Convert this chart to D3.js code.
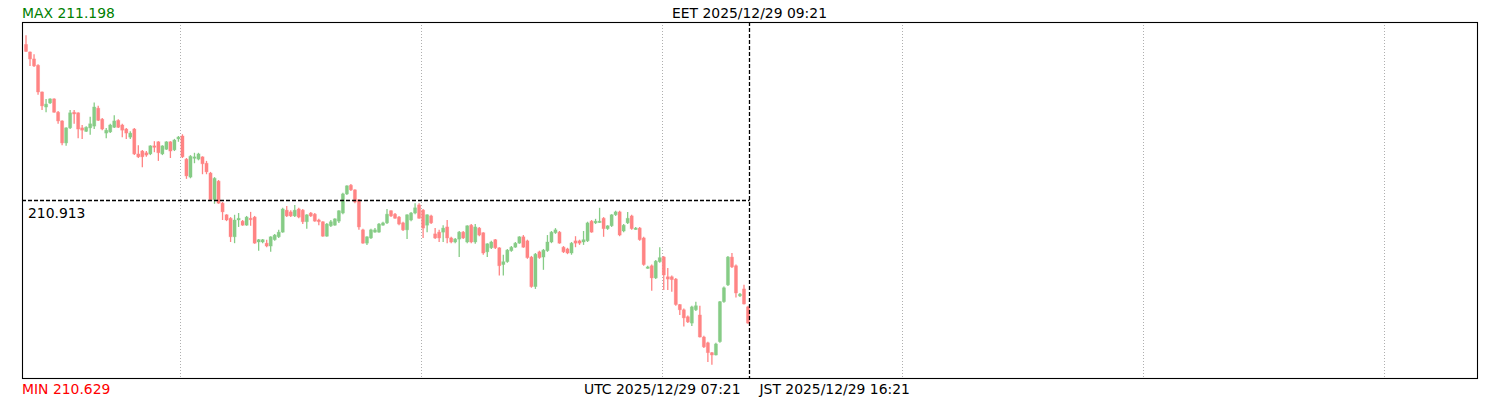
<!DOCTYPE html>
<html><head><meta charset="utf-8">
<script src="https://cdn.jsdelivr.net/npm/d3@7"></script>
<style>
body{margin:0;background:#fff}
svg{display:block}
text{font-family:"DejaVu Sans",sans-serif;font-size:13.9px}
</style></head>
<body><svg id="c" width="1500" height="400"></svg>
<script>
// ---- data ----
const startTime = "2025-12-29T04:21:00Z";   // first 1-minute candle
const open = [211.182,211.169,211.157,211.146,211.100,211.074,211.081,211.088,211.065,211.050,
211.012,211.038,211.065,211.064,211.038,211.032,211.038,211.041,211.072,211.053,
211.029,211.031,211.039,211.051,211.043,211.036,211.022,211.036,210.993,210.998,
210.995,210.993,211.007,211.014,210.993,211.001,211.014,211.000,211.019,211.024,
210.984,210.953,210.986,210.984,210.988,210.977,210.960,210.914,210.946,210.908,
210.888,210.882,210.850,210.879,210.877,210.870,210.882,210.884,210.841,210.841,
210.839,210.834,210.845,210.850,210.858,210.896,210.893,210.886,210.898,210.896,
210.876,210.891,210.889,210.879,210.876,210.851,210.869,210.870,210.877,210.891,
210.924,210.939,210.931,210.914,210.862,210.839,210.848,210.858,210.858,210.870,
210.874,210.895,210.889,210.884,210.874,210.862,210.879,210.891,210.905,210.896,
210.870,210.886,210.855,210.858,210.858,210.867,210.848,210.841,210.846,210.858,
210.841,210.870,210.841,210.865,210.857,210.824,210.831,210.845,210.831,210.802,
210.807,210.826,210.832,210.839,210.850,210.843,210.815,210.764,210.824,210.815,
210.826,210.841,210.857,210.858,210.832,210.829,210.822,210.843,210.843,210.841,
210.843,210.877,210.874,210.876,210.882,210.864,210.869,210.888,210.893,210.860,
210.874,210.886,210.864,210.865,210.848,210.796,210.800,210.779,210.807,210.815,
210.781,210.781,210.777,210.733,210.724,210.712,210.701,210.724,210.715,210.677,
210.667,210.650,210.646,210.669,210.738,210.767,210.815,210.800,210.748,210.760,
210.729];
const high = [211.198,211.170,211.165,211.148,211.101,211.088,211.089,211.089,211.067,211.051,
211.039,211.069,211.069,211.065,211.043,211.041,211.057,211.082,211.076,211.055,
211.038,211.045,211.060,211.053,211.045,211.038,211.032,211.038,211.008,211.000,
210.998,211.008,211.015,211.015,211.008,211.015,211.015,211.019,211.024,211.027,
210.986,210.991,210.995,210.995,210.989,210.981,210.962,210.953,210.948,210.910,
210.889,210.884,210.888,210.891,210.879,210.886,210.893,210.886,210.846,210.846,
210.845,210.851,210.855,210.862,210.900,210.903,210.896,210.905,210.900,210.898,
210.889,210.893,210.891,210.881,210.877,210.874,210.879,210.882,210.896,210.926,
210.939,210.941,210.932,210.915,210.864,210.851,210.864,210.865,210.874,210.876,
210.898,210.896,210.891,210.886,210.876,210.889,210.893,210.908,210.908,210.898,
210.889,210.888,210.865,210.862,210.870,210.879,210.850,210.848,210.860,210.860,
210.870,210.872,210.872,210.867,210.858,210.839,210.843,210.846,210.832,210.819,
210.829,210.834,210.841,210.851,210.853,210.845,210.817,210.822,210.826,210.829,
210.853,210.860,210.865,210.860,210.834,210.831,210.841,210.851,210.845,210.860,
210.876,210.879,210.881,210.900,210.884,210.870,210.889,210.895,210.895,210.872,
210.893,210.888,210.867,210.867,210.850,210.800,210.802,210.810,210.832,210.817,
210.796,210.783,210.779,210.734,210.726,210.714,210.731,210.738,210.731,210.679,
210.669,210.651,210.667,210.739,210.764,210.817,210.822,210.802,210.753,210.767,
210.731];
const low = [211.169,211.145,211.143,211.095,211.069,211.065,211.079,211.064,211.045,211.008,
211.007,211.036,211.045,211.020,211.019,211.031,211.026,211.036,211.050,211.034,
211.020,211.029,211.038,211.038,211.022,211.019,211.019,210.991,210.986,210.970,
210.988,210.991,210.996,210.981,210.991,211.000,210.986,210.998,211.014,210.986,
210.950,210.951,210.977,210.982,210.958,210.958,210.912,210.907,210.907,210.879,
210.877,210.841,210.839,210.867,210.869,210.869,210.869,210.838,210.826,210.839,
210.832,210.824,210.843,210.848,210.857,210.884,210.884,210.884,210.882,210.872,
210.864,210.884,210.876,210.870,210.850,210.850,210.867,210.869,210.874,210.889,
210.922,210.929,210.908,210.862,210.838,210.836,210.846,210.857,210.857,210.869,
210.872,210.884,210.881,210.870,210.860,210.846,210.877,210.889,210.881,210.848,
210.858,210.872,210.846,210.841,210.841,210.839,210.839,210.839,210.815,210.846,
210.839,210.839,210.838,210.851,210.819,210.815,210.829,210.829,210.783,210.783,
210.805,210.824,210.831,210.838,210.831,210.812,210.762,210.760,210.812,210.793,
210.824,210.839,210.855,210.838,210.822,210.820,210.819,210.832,210.836,210.836,
210.841,210.857,210.872,210.874,210.850,210.862,210.867,210.886,210.851,210.858,
210.872,210.862,210.862,210.843,210.800,210.795,210.757,210.777,210.805,210.758,
210.758,210.755,210.731,210.715,210.695,210.701,210.696,210.722,210.676,210.658,
210.634,210.629,210.645,210.667,210.736,210.765,210.796,210.745,210.746,210.733,
210.700];
const close = [211.170,211.157,211.145,211.100,211.076,211.079,211.088,211.065,211.050,211.012,
211.038,211.064,211.062,211.036,211.034,211.039,211.045,211.074,211.051,211.036,
211.034,211.043,211.050,211.039,211.034,211.029,211.029,210.993,210.988,210.988,
210.991,211.007,211.005,210.995,211.007,211.014,210.998,211.017,211.022,210.988,
210.955,210.989,210.988,210.993,210.976,210.962,210.914,210.951,210.908,210.893,
210.879,210.850,210.879,210.882,210.870,210.884,210.881,210.839,210.845,210.845,
210.834,210.850,210.853,210.858,210.898,210.886,210.886,210.896,210.884,210.876,
210.888,210.886,210.877,210.876,210.851,210.872,210.876,210.881,210.895,210.924,
210.938,210.931,210.910,210.867,210.839,210.850,210.862,210.862,210.872,210.874,
210.889,210.886,210.882,210.872,210.862,210.888,210.891,210.900,210.882,210.865,
210.888,210.874,210.848,210.848,210.865,210.848,210.841,210.846,210.858,210.848,
210.869,210.841,210.867,210.853,210.822,210.838,210.841,210.831,210.800,210.807,
210.827,210.832,210.839,210.850,210.832,210.814,210.764,210.820,210.814,210.827,
210.841,210.858,210.862,210.839,210.824,210.822,210.839,210.839,210.839,210.845,
210.874,210.858,210.877,210.877,210.864,210.869,210.888,210.893,210.853,210.870,
210.882,210.864,210.865,210.845,210.802,210.798,210.779,210.808,210.814,210.784,
210.777,210.776,210.733,210.724,210.710,210.703,210.729,210.731,210.677,210.660,
210.650,210.646,210.665,210.738,210.762,210.815,210.798,210.753,210.751,210.734,
210.701];
const crossTime = "2025-12-29T07:21:50Z";
const crossPrice = 210.913;
const viewStart = "2025-12-29T04:20:30Z";
const viewEnd   = "2025-12-29T10:23:30Z";
const zones = [{name:"EET", offset:2},{name:"UTC", offset:0},{name:"JST", offset:9}];

// ---- chart ----
const svg = d3.select("#c");
const L=22, R=1478, T=22, B=378;
const t0 = new Date(startTime);
const candles = open.map((o,i)=>({t:new Date(+t0 + i*60000), o, h:high[i], l:low[i], c:close[i]}));

const x = d3.scaleUtc().domain([new Date(viewStart), new Date(viewEnd)]).range([L,R]);
const lo = d3.min(low), hi = d3.max(high), pad = (hi-lo)*0.04;
const y = d3.scaleLinear().domain([lo-pad, hi+pad]).range([B,T]);

// vertical hourly grid
svg.append("g").selectAll("line").data(x.ticks(d3.utcHour.every(1))).join("line")
  .attr("x1",d=>Math.round(x(d))+0.5).attr("x2",d=>Math.round(x(d))+0.5)
  .attr("y1",T).attr("y2",B)
  .attr("stroke","#9a9a9a").attr("stroke-width",0.8).attr("stroke-dasharray","1,2");

const minW = x(new Date(+t0+60000)) - x(t0);
const bw = minW*0.8;
const cx = d => x(new Date(+d.t + 30000));
const up = "#86cc86", dn = "#ff8484";
const g = svg.append("g");
g.selectAll("line").data(candles).join("line")
  .attr("x1",cx).attr("x2",cx).attr("y1",d=>y(d.h)).attr("y2",d=>y(d.l))
  .attr("stroke",d=>d.c>=d.o?up:dn).attr("stroke-width",1.3);
g.selectAll("rect").data(candles).join("rect")
  .attr("x",d=>cx(d)-bw/2).attr("width",bw)
  .attr("y",d=>y(Math.max(d.o,d.c)))
  .attr("height",d=>Math.max(1.5, Math.abs(y(d.o)-y(d.c))))
  .attr("fill",d=>d.c>=d.o?up:dn)
  .attr("stroke",d=>d.c>=d.o?up:dn).attr("stroke-opacity",0.35).attr("stroke-width",0.8);

// crosshair
const ct = new Date(crossTime);
const xc = Math.round(x(ct))+0.5, yc = Math.round(y(crossPrice))+0.5;
svg.append("line").attr("x1",L).attr("x2",xc).attr("y1",yc).attr("y2",yc)
  .attr("stroke","#000").attr("stroke-width",1.3).attr("stroke-dasharray","4,2");
svg.append("line").attr("x1",xc).attr("x2",xc).attr("y1",T).attr("y2",B)
  .attr("stroke","#000").attr("stroke-width",1.3).attr("stroke-dasharray","4,2");

// frame
svg.append("rect").attr("x",L+0.5).attr("y",T+0.5).attr("width",R-L-1).attr("height",B-T)
  .attr("fill","none").attr("stroke","#000").attr("stroke-width",1.1);

// texts
const fmt = d3.utcFormat("%Y/%m/%d %H:%M");
const zt = z => z.name+" "+fmt(new Date(+ct + z.offset*3600000));
svg.append("text").attr("x",L).attr("y",18).attr("fill","#008000").text("MAX "+d3.format(".3f")(hi));
svg.append("text").attr("x",L).attr("y",394).attr("fill","#ff0000").text("MIN "+d3.format(".3f")(lo));
svg.append("text").attr("x",xc).attr("y",18).attr("text-anchor","middle").text(zt(zones[0]));
svg.append("text").attr("x",xc-9).attr("y",394).attr("text-anchor","end").text(zt(zones[1]));
svg.append("text").attr("x",xc+10).attr("y",394).text(zt(zones[2]));
svg.append("text").attr("x",L+6).attr("y",yc+17.5).text(d3.format(".3f")(crossPrice));
</script></body></html>
